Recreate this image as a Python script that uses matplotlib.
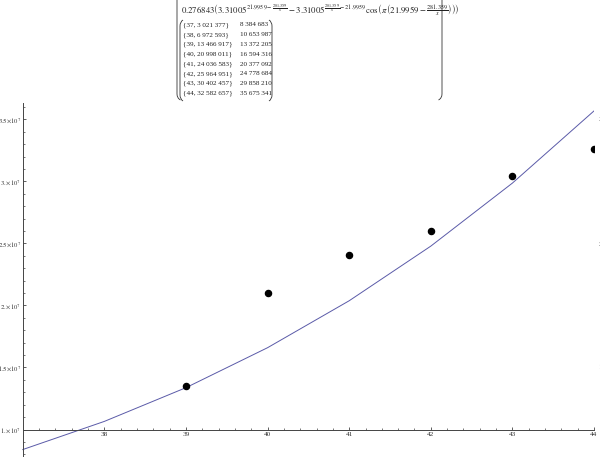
import matplotlib
matplotlib.use("Agg")
import matplotlib.pyplot as plt
from matplotlib.ticker import FixedLocator, FuncFormatter, NullFormatter
from matplotlib.path import Path
from matplotlib.patches import PathPatch

# ---- data ----
x_vals = [37, 38, 39, 40, 41, 42, 43, 44]
observed = [3021377, 6972593, 13466917, 20998011, 24036583, 25964951, 30402457, 32582657]
fitted = [8384683, 10653987, 13372205, 16594316, 20377092, 24778684, 29858210, 35675341]
x_ticks = [38, 39, 40, 41, 42, 43, 44]
y_ticks = [1.0e7, 1.5e7, 2.0e7, 2.5e7, 3.0e7, 3.5e7]
y_tick_labels = [r"$1.{\times}10^{7}$", r"$1.5{\times}10^{7}$", r"$2.{\times}10^{7}$",
                 r"$2.5{\times}10^{7}$", r"$3.{\times}10^{7}$", r"$3.5{\times}10^{7}$"]
formula = (r"$0.276843\left(3.31005^{21.9959-\frac{281.359}{x}}-3.31005^{\frac{281.359}{x}-21.9959}"
           r"\cos\left(\pi\left(21.9959-\frac{281.359}{x}\right)\right)\right)$")

plt.rcParams['font.family'] = ['Liberation Serif', 'DejaVu Serif']
plt.rcParams['mathtext.fontset'] = 'stix'

W, H = 600, 457
fig = plt.figure(figsize=(W / 100, H / 100), dpi=100)
fig.patch.set_facecolor('white')

def fx(px):
    return px / W

def fy(py):
    return 1 - py / H

ax = fig.add_axes([0, 0, 594 / W, 1])
ax.set_facecolor('none')
ax.set_xlim(36.7206, 44.0)
ax.set_ylim(7.7837e6, 4.4615e7)

for s in ['top', 'right']:
    ax.spines[s].set_visible(False)
ax.spines['left'].set_position(('data', 37))
ax.spines['bottom'].set_position(('data', 1e7))
ax.spines['left'].set_bounds(7.7837e6, 3.63e7)
ax.spines['bottom'].set_bounds(37, 44)
for s in ['left', 'bottom']:
    ax.spines[s].set_linewidth(0.7)
    ax.spines[s].set_color('#444444')

ax.xaxis.set_major_locator(FixedLocator(x_ticks))
ax.xaxis.set_minor_locator(FixedLocator([37 + 0.2 * i for i in range(1, 36) if i % 5 != 0]))
ax.yaxis.set_major_locator(FixedLocator(y_ticks))
ax.yaxis.set_major_formatter(FuncFormatter(lambda v, p: y_tick_labels[y_ticks.index(v)] if v in y_ticks else ""))
ax.yaxis.set_minor_locator(FixedLocator([i * 1e6 for i in range(8, 37) if i % 5 != 0]))
ax.xaxis.set_minor_formatter(NullFormatter())
ax.yaxis.set_minor_formatter(NullFormatter())
ax.set_xticklabels([str(t) for t in x_ticks])

ax.tick_params(axis='both', which='major', direction='in', length=2.4, width=0.6,
               color='#444444', labelcolor='#333333')
ax.tick_params(axis='x', which='major', pad=1.8, labelsize=5.2)
ax.tick_params(axis='y', which='major', pad=1.0, labelsize=4.8)
ax.tick_params(axis='both', which='minor', direction='in', length=1.3, width=0.5, color='#444444')

# fitted curve and data points
ax.plot(x_vals, fitted, color='#5a5aa8', lw=0.7, zorder=2)
ax.plot(x_vals, observed, 'o', color='black', markersize=4.4, zorder=3, clip_on=True)

# ---- table / formula text on top ----
fig.text(fx(181), fy(10.5), formula, fontsize=6.3, color='#222222', ha='left', va='center')
row_y0, row_dy = 25.0, 9.76
for i, (xv, ob, ft) in enumerate(zip(x_vals, observed, fitted)):
    yy = row_y0 + i * row_dy
    fig.text(fx(183), fy(yy), "{%d, %s}" % (xv, f"{ob:,}".replace(",", " ")),
             fontsize=5.1, color='#222222', ha='left', va='center')
    fig.text(fx(240), fy(yy), f"{ft:,}".replace(",", " "),
             fontsize=5.1, color='#222222', ha='left', va='center')

def paren(x, top, bot, side, hook=3.0, curl=6.0):
    # side = -1 for left "(", +1 for right ")"
    verts = [(x - side * hook, top), (x, top + curl * 0.3), (x, top + curl),
             (x, bot - curl), (x, bot - curl * 0.3), (x - side * hook, bot)]
    codes = [Path.MOVETO, Path.CURVE3, Path.CURVE3, Path.LINETO, Path.CURVE3, Path.CURVE3]
    verts = [(fx(a), fy(b)) for a, b in verts]
    fig.add_artist(PathPatch(Path(verts, codes), transform=fig.transFigure,
                             fill=False, lw=0.6, color='#333333'))

paren(177, -6, 100, -1, hook=3.5)
paren(442, -6, 100, +1, hook=3.5)
paren(180, 20, 101, -1, hook=3.0)
paren(272, 20, 101, +1, hook=3.0)

# cut-off labels of a neighbouring panel at the right edge
for yv, lab in [(119, r"$3.5{\times}10^{7}$"), (244, r"$2.5{\times}10^{7}$"), (367, r"$1.5{\times}10^{7}$")]:
    fig.text(fx(597.5), fy(yv), lab, fontsize=4.8, color='#333333', ha='left', va='center')

fig.savefig('out.png', dpi=100, facecolor='white')
